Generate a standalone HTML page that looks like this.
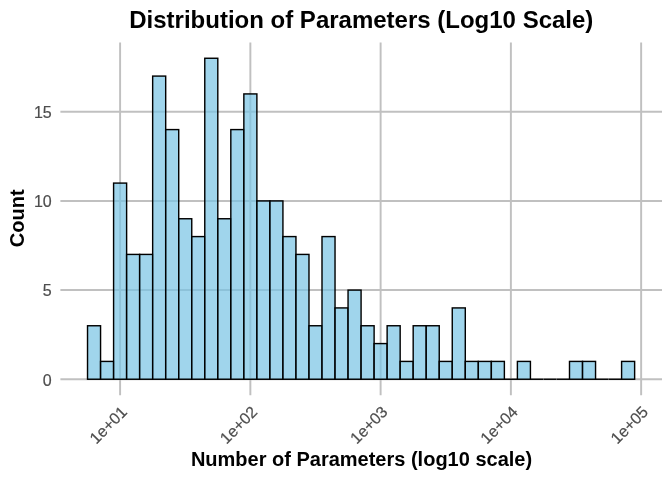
<!DOCTYPE html>
<html><head><meta charset="utf-8"><title>Distribution of Parameters (Log10 Scale)</title>
<style>
html,body{margin:0;padding:0;background:#fff;}
body{width:672px;height:480px;overflow:hidden;}
svg{display:block;}
text{font-family:"Liberation Sans",Arial,Helvetica,sans-serif;}
.t{font-weight:bold;fill:#000;}
.a{font-size:16px;fill:#4d4d4d;stroke:#4d4d4d;stroke-width:0.2px;}
</style></head><body>
<svg width="672" height="480" viewBox="0 0 672 480">
<rect width="672" height="480" fill="#ffffff"/>

<g stroke="#c0c0c0" stroke-width="1.94" fill="none">
<line x1="60.4" x2="662.0" y1="379.25" y2="379.25"/>
<line x1="60.4" x2="662.0" y1="290.09" y2="290.09"/>
<line x1="60.4" x2="662.0" y1="200.92" y2="200.92"/>
<line x1="60.4" x2="662.0" y1="111.75" y2="111.75"/>
<line x1="120.10" x2="120.10" y1="42.4" y2="395.2"/>
<line x1="250.36" x2="250.36" y1="42.4" y2="395.2"/>
<line x1="380.62" x2="380.62" y1="42.4" y2="395.2"/>
<line x1="510.88" x2="510.88" y1="42.4" y2="395.2"/>
<line x1="641.14" x2="641.14" y1="42.4" y2="395.2"/>
</g>
<g fill="#77c3e4" fill-opacity="0.7" stroke="#000" stroke-width="1.42" stroke-linejoin="miter">
<rect x="87.53" y="325.75" width="13.03" height="53.50"/>
<rect x="100.56" y="361.42" width="13.03" height="17.83"/>
<rect x="113.59" y="183.09" width="13.03" height="196.16"/>
<rect x="126.61" y="254.42" width="13.03" height="124.83"/>
<rect x="139.64" y="254.42" width="13.03" height="124.83"/>
<rect x="152.66" y="76.09" width="13.03" height="303.16"/>
<rect x="165.69" y="129.59" width="13.03" height="249.66"/>
<rect x="178.72" y="218.75" width="13.03" height="160.50"/>
<rect x="191.74" y="236.59" width="13.03" height="142.66"/>
<rect x="204.77" y="58.26" width="13.03" height="320.99"/>
<rect x="217.79" y="218.75" width="13.03" height="160.50"/>
<rect x="230.82" y="129.59" width="13.03" height="249.66"/>
<rect x="243.85" y="93.92" width="13.03" height="285.33"/>
<rect x="256.87" y="200.92" width="13.03" height="178.33"/>
<rect x="269.90" y="200.92" width="13.03" height="178.33"/>
<rect x="282.92" y="236.59" width="13.03" height="142.66"/>
<rect x="295.95" y="254.42" width="13.03" height="124.83"/>
<rect x="308.98" y="325.75" width="13.03" height="53.50"/>
<rect x="322.00" y="236.59" width="13.03" height="142.66"/>
<rect x="335.03" y="307.92" width="13.03" height="71.33"/>
<rect x="348.05" y="290.09" width="13.03" height="89.16"/>
<rect x="361.08" y="325.75" width="13.03" height="53.50"/>
<rect x="374.11" y="343.58" width="13.03" height="35.67"/>
<rect x="387.13" y="325.75" width="13.03" height="53.50"/>
<rect x="400.16" y="361.42" width="13.03" height="17.83"/>
<rect x="413.18" y="325.75" width="13.03" height="53.50"/>
<rect x="426.21" y="325.75" width="13.03" height="53.50"/>
<rect x="439.24" y="361.42" width="13.03" height="17.83"/>
<rect x="452.26" y="307.92" width="13.03" height="71.33"/>
<rect x="465.29" y="361.42" width="13.03" height="17.83"/>
<rect x="478.31" y="361.42" width="13.03" height="17.83"/>
<rect x="491.34" y="361.42" width="13.03" height="17.83"/>
<line x1="504.47" x2="517.29" y1="379.25" y2="379.25" stroke-width="1.42"/>
<rect x="517.39" y="361.42" width="13.03" height="17.83"/>
<line x1="530.52" x2="543.34" y1="379.25" y2="379.25" stroke-width="1.42"/>
<line x1="543.54" x2="556.37" y1="379.25" y2="379.25" stroke-width="1.42"/>
<line x1="556.57" x2="569.40" y1="379.25" y2="379.25" stroke-width="1.42"/>
<rect x="569.50" y="361.42" width="13.03" height="17.83"/>
<rect x="582.52" y="361.42" width="13.03" height="17.83"/>
<line x1="595.65" x2="608.47" y1="379.25" y2="379.25" stroke-width="1.42"/>
<line x1="608.67" x2="621.50" y1="379.25" y2="379.25" stroke-width="1.42"/>
<rect x="621.60" y="361.42" width="13.03" height="17.83"/>
</g>
<text class="a" x="51.7" y="385.60" text-anchor="end">0</text>
<text class="a" x="51.7" y="296.44" text-anchor="end">5</text>
<text class="a" x="51.7" y="207.27" text-anchor="end">10</text>
<text class="a" x="51.7" y="118.10" text-anchor="end">15</text>
<text class="a" transform="translate(128.10,412.9) rotate(-45)" text-anchor="end">1e+01</text>
<text class="a" transform="translate(258.36,412.9) rotate(-45)" text-anchor="end">1e+02</text>
<text class="a" transform="translate(388.62,412.9) rotate(-45)" text-anchor="end">1e+03</text>
<text class="a" transform="translate(518.88,412.9) rotate(-45)" text-anchor="end">1e+04</text>
<text class="a" transform="translate(649.14,412.9) rotate(-45)" text-anchor="end">1e+05</text>
<text class="t" x="361.3" y="27.7" font-size="24" text-anchor="middle">Distribution of Parameters (Log10 Scale)</text>
<text class="t" x="361.5" y="465.8" font-size="20" text-anchor="middle">Number of Parameters (log10 scale)</text>
<text class="t" transform="translate(24.3,218.3) rotate(-90)" font-size="20" text-anchor="middle">Count</text>
</svg></body></html>
